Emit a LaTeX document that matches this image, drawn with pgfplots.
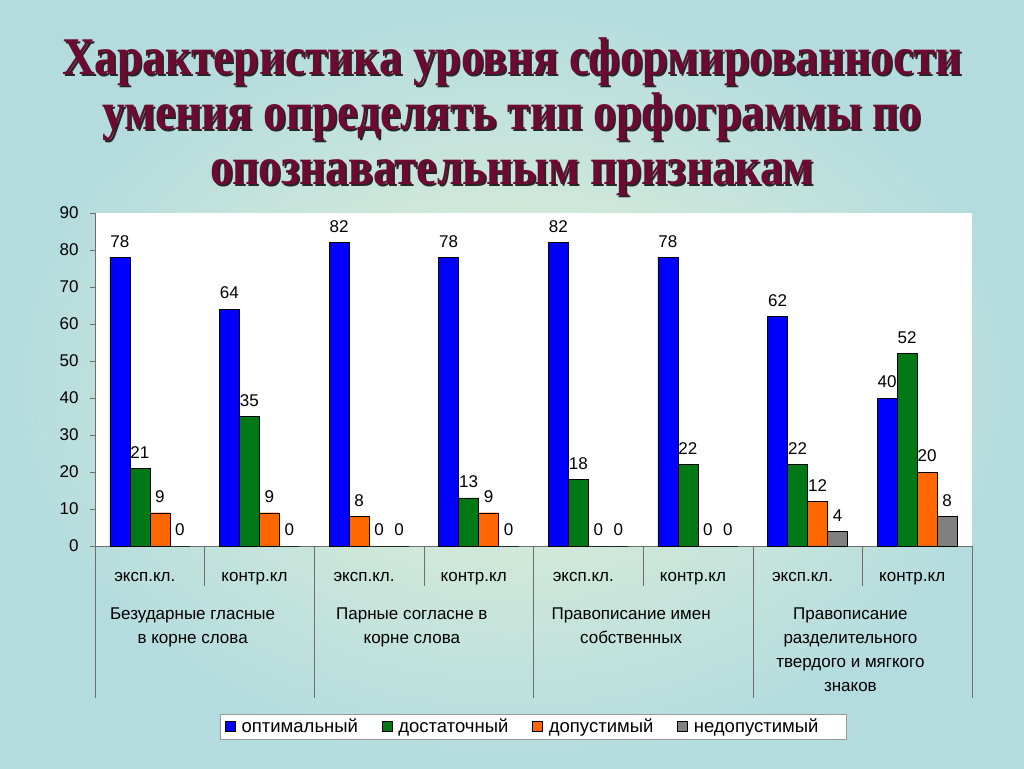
\documentclass[border=0pt]{standalone}
\usepackage{fontspec}
\setmainfont{Liberation Sans}
\newfontfamily\titlefont{Liberation Serif}
\usepackage{pgfplots}
\pgfplotsset{compat=1.18}
\definecolor{bgouter}{RGB}{180,220,222}
\definecolor{bginner}{RGB}{230,242,214}
\definecolor{titlecol}{RGB}{110,10,50}
\definecolor{sblue}{RGB}{0,0,255}
\definecolor{sgreen}{RGB}{0,120,22}
\definecolor{sorange}{RGB}{255,102,0}
\definecolor{sgrey}{RGB}{128,128,128}
\definecolor{axcol}{RGB}{110,110,110}
\newcommand\lbl{\fontsize{17}{20}\selectfont}
\newcommand\ttl{\titlefont\bfseries\fontsize{53}{60}\selectfont}
\newlength\tw
\begin{document}
\settowidth\tw{\ttl Характеристика уровня сформированности}%
\pgfmathsetmacro\sx{900/\tw}%
\begin{tikzpicture}
\shade[inner color=bginner, outer color=bgouter] (0,0) rectangle (1024pt,768pt);
% title with shadow
\foreach \txt/\yy in {Характеристика уровня сформированности/693,
                      умения определять тип орфограммы по/638,
                      опознавательным признакам/583}{
  \node[anchor=base, inner sep=0pt, text=black!85] at (514pt,\yy pt-2pt) {\scalebox{\sx}[1]{\ttl \txt}};
  \node[anchor=base, inner sep=0pt, text=titlecol] at (512pt,\yy pt) {\scalebox{\sx}[1]{\ttl \txt}};
}
\begin{axis}[
  at={(95pt,222pt)}, anchor=south west,
  width=877pt, height=333pt, scale only axis,
  xmin=-0.5, xmax=7.5, ymin=0, ymax=90,
  ytick={0,10,...,90}, xtick=\empty,
  axis x line*=bottom, axis y line*=left,
  x axis line style={-, axcol}, y axis line style={-, axcol},
  ytick style={axcol}, tick align=outside, major tick length=5pt,
  yticklabel style={font=\lbl, xshift=-8pt},
  /pgf/number format/assume math mode=true,
  axis background/.style={fill=white},
  bar width=20pt,
  nodes near coords,
  every node near coord/.append style={font=\lbl, text=black, inner sep=0pt, anchor=south, yshift=10pt},
  legend image code/.code={\draw[#1, draw=black] (0pt,-4.5pt) rectangle (10pt,5.5pt);},
  legend style={at={(0.1425,-0.542)}, anchor=west, legend columns=4,
    draw=axcol!70, fill=white, font=\fontsize{18.5}{21}\selectfont,
    inner xsep=5pt, inner ysep=3pt,
    /tikz/every odd column/.append style={column sep=4pt},
    /tikz/every even column/.append style={column sep=22pt}},
  clip=false,
]
\addplot[ybar, bar shift=-30pt, fill=sblue, draw=black,
  every node near coord/.append style={xshift=-30pt}] coordinates
  {(0,78) (1,64) (2,82) (3,78) (4,82) (5,78) (6,62) (7,40)};
\addplot[ybar, bar shift=-10pt, fill=sgreen, draw=black,
  every node near coord/.append style={xshift=-10pt}] coordinates
  {(0,21) (1,35) (3,13) (4,18) (5,22) (6,22) (7,52)};
\addplot[ybar, bar shift=10pt, fill=sorange, draw=black,
  every node near coord/.append style={xshift=10pt}] coordinates
  {(0,9) (1,9) (2,0) (3,9) (4,0) (5,0) (6,12) (7,20)};
\addplot[ybar, bar shift=30pt, fill=sgrey, draw=black,
  every node near coord/.append style={xshift=30pt}] coordinates
  {(0,0) (1,0) (2,0) (3,0) (4,0) (5,0) (6,4) (7,8)};
% second slot of the third group is drawn orange in the original
\addplot[ybar, bar shift=-10pt, fill=sorange, draw=black, forget plot,
  every node near coord/.append style={xshift=-10pt}] coordinates {(2,8)};
\legend{оптимальный, достаточный, допустимый, недопустимый\rule{21pt}{0pt}}
% category axis structure
\pgfplotsinvokeforeach{-0.5,1.5,3.5,5.5,7.5}{
  \draw[axcol] (axis cs:#1,0) -- ++(0pt,-152pt);
}
\pgfplotsinvokeforeach{0.5,2.5,4.5,6.5}{
  \draw[axcol] (axis cs:#1,0) -- ++(0pt,-40pt);
}
\pgfplotsinvokeforeach{0,2,4,6}{
  \node[font=\lbl, anchor=base, xshift=-5pt, yshift=-35pt] at (axis cs:#1,0) {эксп.кл.};
}
\pgfplotsinvokeforeach{1,3,5,7}{
  \node[font=\lbl, anchor=base, xshift=-5pt, yshift=-35pt] at (axis cs:#1,0) {контр.кл};
}
\node[font=\lbl, align=center, anchor=north, inner sep=0pt, xshift=-12pt, yshift=-62pt] at (axis cs:0.5,0) {Безударные гласные\\[4pt]в корне слова};
\node[font=\lbl, align=center, anchor=north, inner sep=0pt, xshift=-12pt, yshift=-62pt] at (axis cs:2.5,0) {Парные согласне в\\[4pt]корне слова};
\node[font=\lbl, align=center, anchor=north, inner sep=0pt, xshift=-12pt, yshift=-62pt] at (axis cs:4.5,0) {Правописание имен\\[4pt]собственных};
\node[font=\lbl, align=center, anchor=north, inner sep=0pt, xshift=-12pt, yshift=-62pt] at (axis cs:6.5,0) {Правописание\\[4pt]разделительного\\[4pt]твердого и мягкого\\[4pt]знаков};
\end{axis}
\pgfresetboundingbox
\path (0,0) rectangle (1024pt,768pt);
\end{tikzpicture}
\end{document}
